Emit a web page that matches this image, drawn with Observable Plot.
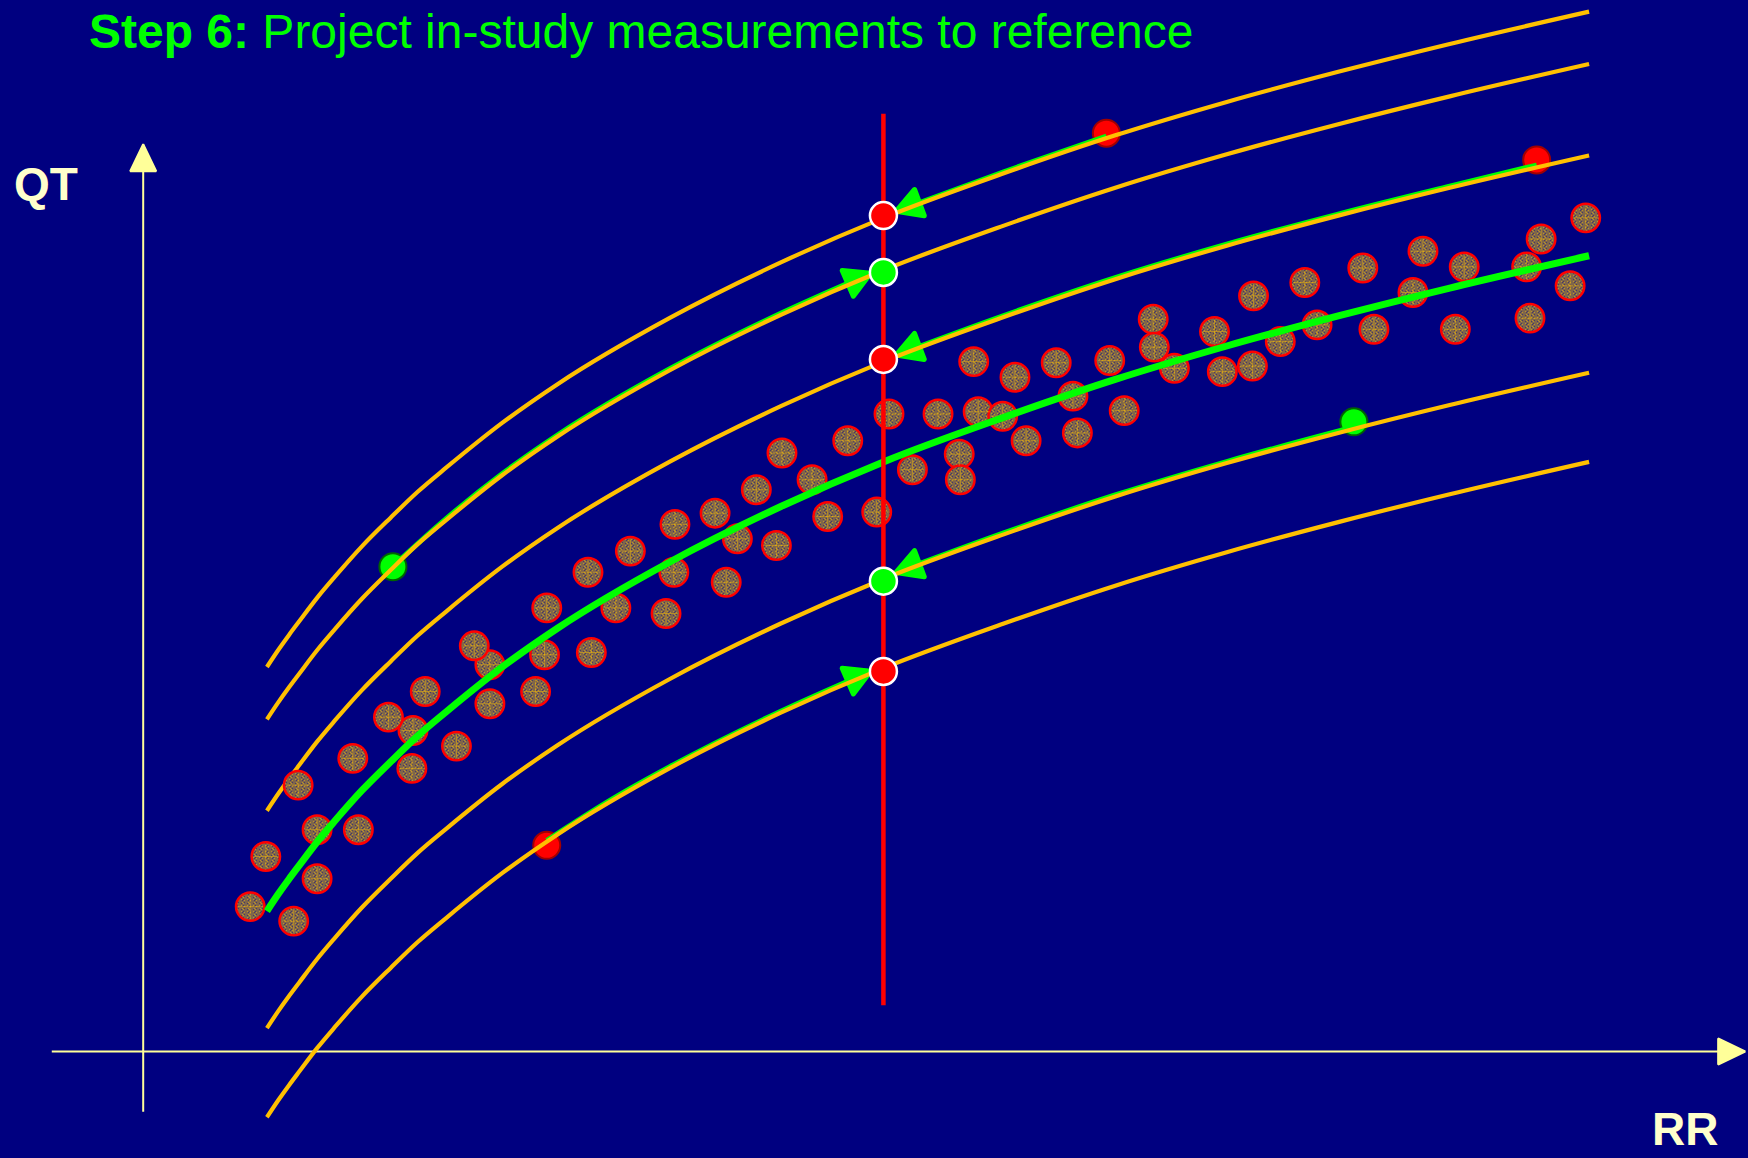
<!DOCTYPE html>
<html><head><meta charset="utf-8">
<script src="https://cdn.jsdelivr.net/npm/d3@7"></script>
<script src="https://cdn.jsdelivr.net/npm/@observablehq/plot@0.6"></script>
<style>
html,body{margin:0;padding:0;background:#000080;}
#wrap{position:relative;width:1748px;height:1158px;overflow:hidden;background:#000080;font-family:Arial,"Liberation Sans",Helvetica,sans-serif;}
#chart{position:absolute;left:0;top:0;}
#title{position:absolute;left:89px;top:8px;font-size:48px;line-height:48px;color:#00ff00;white-space:nowrap;}
.lbl{position:absolute;font-size:46px;line-height:46px;font-weight:bold;color:#ffffcc;white-space:nowrap;}
</style></head>
<body>
<div id="wrap">
<div id="chart"></div>
<div id="title"><b>Step 6:</b> Project in-study measurements to reference</div>
<div class="lbl" style="left:14px;top:161px">QT</div>
<div class="lbl" style="left:1652px;top:1106px">RR</div>
</div>
<script>
// ---- Reference curves (RR sample positions, QT values per curve) ----
const curveRR       = [111, 121, 131, 140, 156, 172, 196, 222, 246, 272, 322, 372, 472, 572, 664, 772, 872, 972, 1072, 1172, 1297];
const upperOuterQT  = [345, 360, 374, 386, 407, 426, 453, 479, 502, 524, 564, 599, 658, 708, 748, 788, 822, 852, 879, 904, 933];
const upperInnerQT  = [298, 313, 327, 339, 360, 379, 406, 432, 455, 477, 517, 552, 611, 661, 701, 741, 775, 805, 832, 857, 886];
const upperBandQT   = [216, 231, 245, 257, 278, 297, 324, 350, 373, 395, 435, 470, 529, 579, 619, 659, 693, 723, 750, 775, 804];
const meanQT        = [126, 141, 155, 167, 188, 207, 234, 260, 283, 305, 345, 380, 439, 489, 529, 569, 603, 633, 660, 685, 714];
const lowerBandQT   = [21, 36, 50, 62, 83, 102, 129, 155, 178, 200, 240, 275, 334, 384, 424, 464, 498, 528, 555, 580, 609];
const lowerOuterQT  = [-59, -44, -30, -18, 3, 22, 49, 75, 98, 120, 160, 195, 254, 304, 344, 384, 418, 448, 475, 500, 529];

// ---- Reference population measurements ----
const refRR = [96,135,110,156,156,193,139,188,241,242,220,281,253,311,311,297,352,360,362,402,399,424,437,469,476,477,513,523,533,550,568,573,600,614,632,658,669,690,713,732,733,745,749,771,782,792,819,834,838,867,880,906,907,925,961,968,995,996,1020,1042,1053,1094,1104,1139,1148,1177,1185,1241,1244,1254,1280,1294];
const refQT = [130,117,175,155,199,199,239,263,254,288,300,274,323,312,347,364,323,356,398,358,430,398,449,393,430,473,483,421,460,504,454,537,513,480,548,484,572,522,572,536,513,619,574,570,605,548,618,588,555,620,575,657,632,613,646,610,615,678,637,690,652,703,648,681,718,648,704,704,658,729,687,748];

// ---- In-study measurements ----
const studyRR     = [864, 224, 1250, 1086, 362];
const studyQT     = [824, 435, 800, 565, 185];
const studyStatus = ["out", "in", "out", "in", "out"];

// ---- Projection paths along the curves ----
const pathId = ["p1","p1","p1", "p2","p2","p2","p2","p2","p2","p2", "p3","p3","p3","p3","p3","p3","p3", "p4","p4","p4","p4","p4", "p5","p5","p5","p5","p5"];
const pathRR = [864, 772, 682,  224, 272, 322, 372, 472, 572, 646,  1250, 1172, 1072, 972, 872, 772, 682,  1086, 972, 872, 772, 682,  362, 422, 472, 572, 646];
const pathQT = [820, 788, 755,  434, 477, 517, 552, 611, 661, 694,  794, 775, 750, 723, 693, 659, 626,  559, 528, 498, 464, 431,  188, 226, 254, 304, 337];

// ---- Projected values at the reference RR ----
const projectionRR   = 664;
const projectionSpan = [41, 841];
const projQT     = [750, 699, 621, 422, 341];
const projStatus = ["out", "in", "out", "in", "out"];

// ---- Axes ----
const axisFrom = [{x: -82, y: 0}, {x: 0, y: -54}];
const axisTo   = [{x: 1437, y: 0}, {x: 0, y: 814}];

// build tables
const curveTable = [["upperOuter", upperOuterQT], ["upperInner", upperInnerQT], ["upperBand", upperBandQT],
  ["mean", meanQT], ["lowerBand", lowerBandQT], ["lowerOuter", lowerOuterQT]]
  .flatMap(([name, qt]) => curveRR.map((rr, i) => ({curve: name, RR: rr, QT: qt[i]})));
const bandCurves = curveTable.filter(d => d.curve !== "mean");
const meanCurve = curveTable.filter(d => d.curve === "mean");
const ref = refRR.map((rr, i) => ({RR: rr, QT: refQT[i]}));
const study = studyRR.map((rr, i) => ({RR: rr, QT: studyQT[i], status: studyStatus[i]}));
const paths = pathRR.map((rr, i) => ({id: pathId[i], RR: rr, QT: pathQT[i]}));
const proj = projQT.map((qt, i) => ({RR: projectionRR, QT: qt, status: projStatus[i]}));
const axes = axisFrom.map((a, i) => ({x1: a.x, y1: a.y, x2: axisTo[i].x, y2: axisTo[i].y}));

const NS = "http://www.w3.org/2000/svg";
function head(len, half, pad) {
  return (color) => {
    const m = document.createElementNS(NS, "marker");
    m.setAttribute("viewBox", `${-len} ${-half} ${len + pad} ${2 * half}`);
    m.setAttribute("markerWidth", len + pad);
    m.setAttribute("markerHeight", 2 * half);
    m.setAttribute("markerUnits", "userSpaceOnUse");
    m.setAttribute("refX", -pad);
    m.setAttribute("refY", 0);
    m.setAttribute("orient", "auto");
    m.setAttribute("overflow", "visible");
    const p = document.createElementNS(NS, "path");
    p.setAttribute("d", `M${pad},0L${pad - len},${-half}L${pad - len},${half}Z`);
    p.setAttribute("fill", color);
    m.appendChild(p);
    return m;
  };
}

const svg = Plot.plot({
  width: 1748,
  height: 1158,
  margin: 0,
  style: {background: "#000080", overflow: "visible"},
  x: {domain: [-128, 1440], axis: null},
  y: {domain: [-96, 943], axis: null},
  marks: [
    Plot.link(axes, {x1: "x1", y1: "y1", x2: "x2", y2: "y2", stroke: "#ffff99", strokeWidth: 2, markerEnd: head(27, 13, 0)}),
    Plot.dot(study.filter(d => d.status === "out"), {x: "RR", y: "QT", r: 13.5, fill: "#ff0000", stroke: "#a00000", strokeWidth: 2}),
    Plot.dot(study.filter(d => d.status === "in"), {x: "RR", y: "QT", r: 13.5, fill: "#00ff00", stroke: "#006400", strokeWidth: 2}),
    Plot.line(paths, {x: "RR", y: "QT", z: "id", stroke: "#00ff00", strokeWidth: 5, curve: "monotone-x", dy: -1.5, strokeLinecap: "butt", markerEnd: head(25, 14, 4)}),
    Plot.line(bandCurves, {x: "RR", y: "QT", z: "curve", stroke: "#ffc000", strokeWidth: 4.2, curve: "monotone-x", strokeLinecap: "butt"}),
    Plot.dot(ref, {x: "RR", y: "QT", r: 14.2, fill: "url(#speckle)", stroke: "#ff0000", strokeWidth: 2.5}),
    Plot.dot(ref, {x: "RR", y: "QT", symbol: "plus", r: 7.5, stroke: "#ffc000", strokeWidth: 1, strokeOpacity: 0.45}),
    Plot.line(meanCurve, {x: "RR", y: "QT", stroke: "#00ff00", strokeWidth: 7, curve: "monotone-x", strokeLinecap: "butt"}),
    Plot.ruleX([projectionRR], {y1: projectionSpan[0], y2: projectionSpan[1], stroke: "#ff0000", strokeWidth: 4.5}),
    Plot.dot(proj.filter(d => d.status === "out"), {x: "RR", y: "QT", r: 13.5, fill: "#ff0000", stroke: "white", strokeWidth: 2.5}),
    Plot.dot(proj.filter(d => d.status === "in"), {x: "RR", y: "QT", r: 13.5, fill: "#00ff00", stroke: "white", strokeWidth: 2.5})
  ]
});

// speckled texture for the reference dots
const defs = document.createElementNS(NS, "defs");
const pat = document.createElementNS(NS, "pattern");
pat.setAttribute("id", "speckle");
pat.setAttribute("width", 6);
pat.setAttribute("height", 6);
pat.setAttribute("patternUnits", "userSpaceOnUse");
const bg = document.createElementNS(NS, "rect");
bg.setAttribute("width", 6); bg.setAttribute("height", 6); bg.setAttribute("fill", "#0c0c84");
pat.appendChild(bg);
const bits = ["100110", "011001", "101010", "001101", "110010", "010101"];
bits.forEach((row, j) => [...row].forEach((b, i) => {
  if (b === "1") {
    const r = document.createElementNS(NS, "rect");
    r.setAttribute("x", i); r.setAttribute("y", j); r.setAttribute("width", 1); r.setAttribute("height", 1);
    r.setAttribute("fill", "#f2bf10");
    pat.appendChild(r);
  }
}));
defs.appendChild(pat);
svg.insertBefore(defs, svg.firstChild);

document.getElementById("chart").appendChild(svg);
</script>
</body></html>
